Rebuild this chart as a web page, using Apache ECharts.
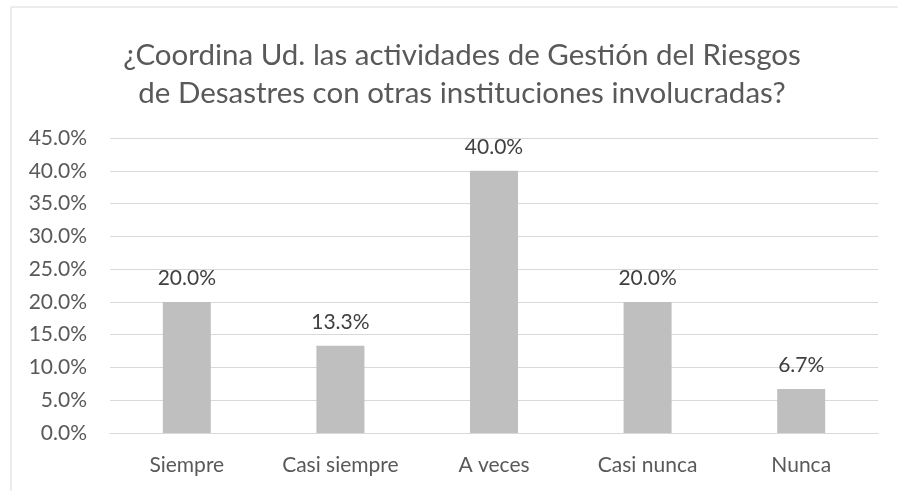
<!DOCTYPE html>
<html>
<head>
<meta charset="utf-8">
<script src="https://cdn.jsdelivr.net/npm/echarts@6/dist/echarts.min.js"></script>
<style>
  html, body { margin: 0; padding: 0; background: #fff; }
  #chart { width: 898px; height: 491px; }
</style>
</head>
<body>
<div id="chart"></div>
<script>
// data
const categories = ['Siempre', 'Casi siempre', 'A veces', 'Casi nunca', 'Nunca'];
const percentages = [20.0, 13.3, 40.0, 20.0, 6.7];
const titleLines = [
  '¿Coordina Ud. las actividades de Gestión del Riesgos',
  'de Desastres con otras instituciones involucradas?'
];

const textColor = '#595959';
const gridColor = '#D9D9D9';
const fontFamily = 'Lato, "Open Sans", sans-serif';

var chart = echarts.init(document.getElementById('chart'), null, { renderer: 'canvas' });

var option = {
  backgroundColor: '#fff',
  animation: false,
  title: {
    text: titleLines.join('\n'),
    left: 457,
    textAlign: 'center',
    top: 31,
    textStyle: {
      color: textColor,
      fontFamily: fontFamily,
      fontWeight: 'normal',
      fontSize: 29.5,
      lineHeight: 38
    }
  },
  graphic: [{
    type: 'rect',
    shape: { x: 11, y: 7, width: 900, height: 500 },
    style: { fill: 'none', stroke: gridColor, lineWidth: 1 },
    silent: true
  }],
  grid: {
    left: 110,
    right: 20,
    top: 138,
    bottom: 58
  },
  xAxis: {
    type: 'category',
    data: categories,
    axisLine: { show: true, lineStyle: { color: gridColor, width: 1 } },
    axisTick: { show: false },
    axisLabel: {
      color: textColor,
      fontFamily: fontFamily,
      fontSize: 21,
      margin: 22
    }
  },
  yAxis: {
    type: 'value',
    min: 0,
    max: 45,
    interval: 5,
    axisLine: { show: false },
    axisTick: { show: false },
    splitLine: { lineStyle: { color: gridColor, width: 1 } },
    axisLabel: {
      color: textColor,
      fontFamily: fontFamily,
      fontSize: 21,
      margin: 23,
      formatter: v => v.toFixed(1) + '%'
    }
  },
  series: [{
    type: 'bar',
    data: percentages,
    barWidth: 48,
    itemStyle: { color: '#BFBFBF' },
    label: {
      show: true,
      position: 'top',
      distance: 13,
      color: '#404040',
      fontFamily: fontFamily,
      fontSize: 21,
      formatter: p => p.value.toFixed(1) + '%'
    }
  }]
};

chart.setOption(option);
</script>
</body>
</html>
